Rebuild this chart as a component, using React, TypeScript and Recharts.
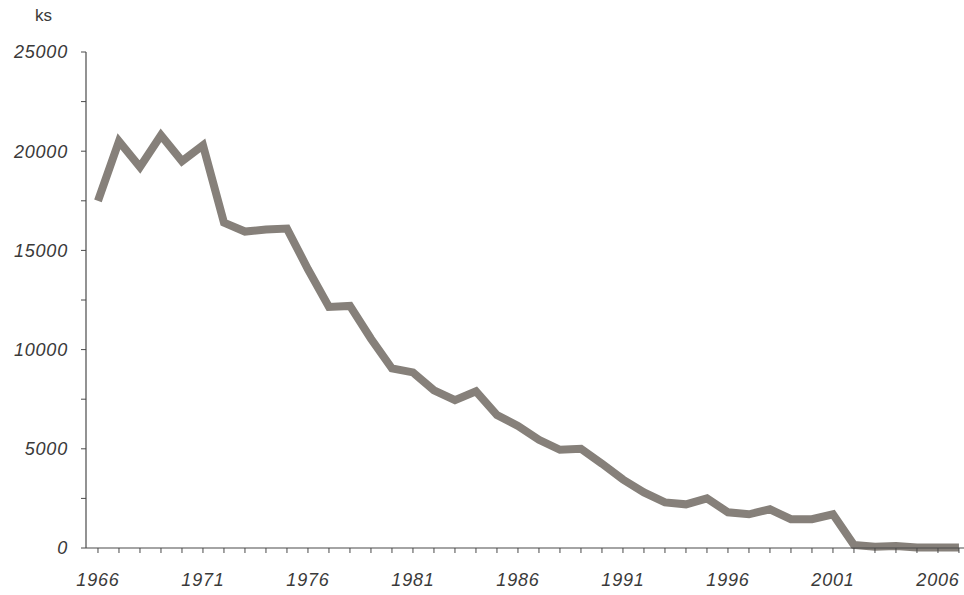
import { Line, LineChart, XAxis, YAxis } from "recharts";

const years = [
  1966, 1967, 1968, 1969, 1970, 1971, 1972, 1973, 1974, 1975,
  1976, 1977, 1978, 1979, 1980, 1981, 1982, 1983, 1984, 1985,
  1986, 1987, 1988, 1989, 1990, 1991, 1992, 1993, 1994, 1995,
  1996, 1997, 1998, 1999, 2000, 2001, 2002, 2003, 2004, 2005,
  2006, 2007,
];

// počet kusů (ks)
const counts = [
  17500, 20500, 19200, 20800, 19500, 20300, 16400, 15950, 16050, 16100,
  14050, 12150, 12200, 10550, 9050, 8850, 7950, 7450, 7900, 6700,
  6150, 5450, 4950, 5000, 4250, 3450, 2800, 2300, 2200, 2500,
  1800, 1700, 1950, 1450, 1450, 1700, 150, 60, 100, 30,
  20, 20,
];

const yTicks = [0, 2500, 5000, 7500, 10000, 12500, 15000, 17500, 20000, 22500, 25000];
const yLabels = [0, 5000, 10000, 15000, 20000, 25000];
const xLabels = [1966, 1971, 1976, 1981, 1986, 1991, 1996, 2001, 2006];

const data = years.map((year, i) => ({ year, ks: counts[i] }));

const FONT = "'Liberation Sans', Arial, sans-serif";
const TEXT = "#3a3a3a";
const AXIS = "#4a4a4a";

function XTick(props: any) {
  const { x, y, payload } = props;
  if (!xLabels.includes(payload.value)) return null;
  return (
    <text x={x} y={y} dy="0.71em" textAnchor="middle" fill={TEXT}
      fontFamily={FONT} fontSize={18} fontStyle="italic" letterSpacing={0.8}>
      {payload.value}
    </text>
  );
}

function YTick(props: any) {
  const { x, y, payload } = props;
  if (!yLabels.includes(payload.value)) return null;
  return (
    <text x={x} y={y} dy="0.355em" textAnchor="end" fill={TEXT}
      fontFamily={FONT} fontSize={18} fontStyle="italic" letterSpacing={0.8}>
      {payload.value}
    </text>
  );
}

export default function App() {
  return (
    <div style={{ position: "absolute", left: 0, top: 0, width: 964, height: 595, background: "#fff" }}>
      <div style={{ position: "absolute", left: 35, top: 6, fontFamily: FONT, fontSize: 17, color: TEXT }}>
        ks
      </div>
      <LineChart width={964} height={595} data={data}
        margin={{ top: 52, right: 0, bottom: 7, left: 8 }}>
        <XAxis
          dataKey="year"
          type="number"
          domain={[1965.43, 2007.24]}
          ticks={years}
          interval={0}
          height={40}
          tickSize={5}
          tickMargin={20}
          tick={<XTick />}
          axisLine={{ stroke: AXIS, strokeWidth: 1.2 }}
          tickLine={{ stroke: AXIS, strokeWidth: 1 }}
        />
        <YAxis
          type="number"
          domain={[0, 25000]}
          ticks={yTicks}
          interval={0}
          width={78}
          tickSize={5}
          tickMargin={13}
          tick={<YTick />}
          axisLine={{ stroke: AXIS, strokeWidth: 1.2 }}
          tickLine={{ stroke: AXIS, strokeWidth: 1 }}
        />
        <Line
          type="linear"
          dataKey="ks"
          stroke="#86807a"
          strokeWidth={8}
          strokeLinejoin="miter"
          dot={false}
          activeDot={false}
          isAnimationActive={false}
        />
      </LineChart>
    </div>
  );
}
